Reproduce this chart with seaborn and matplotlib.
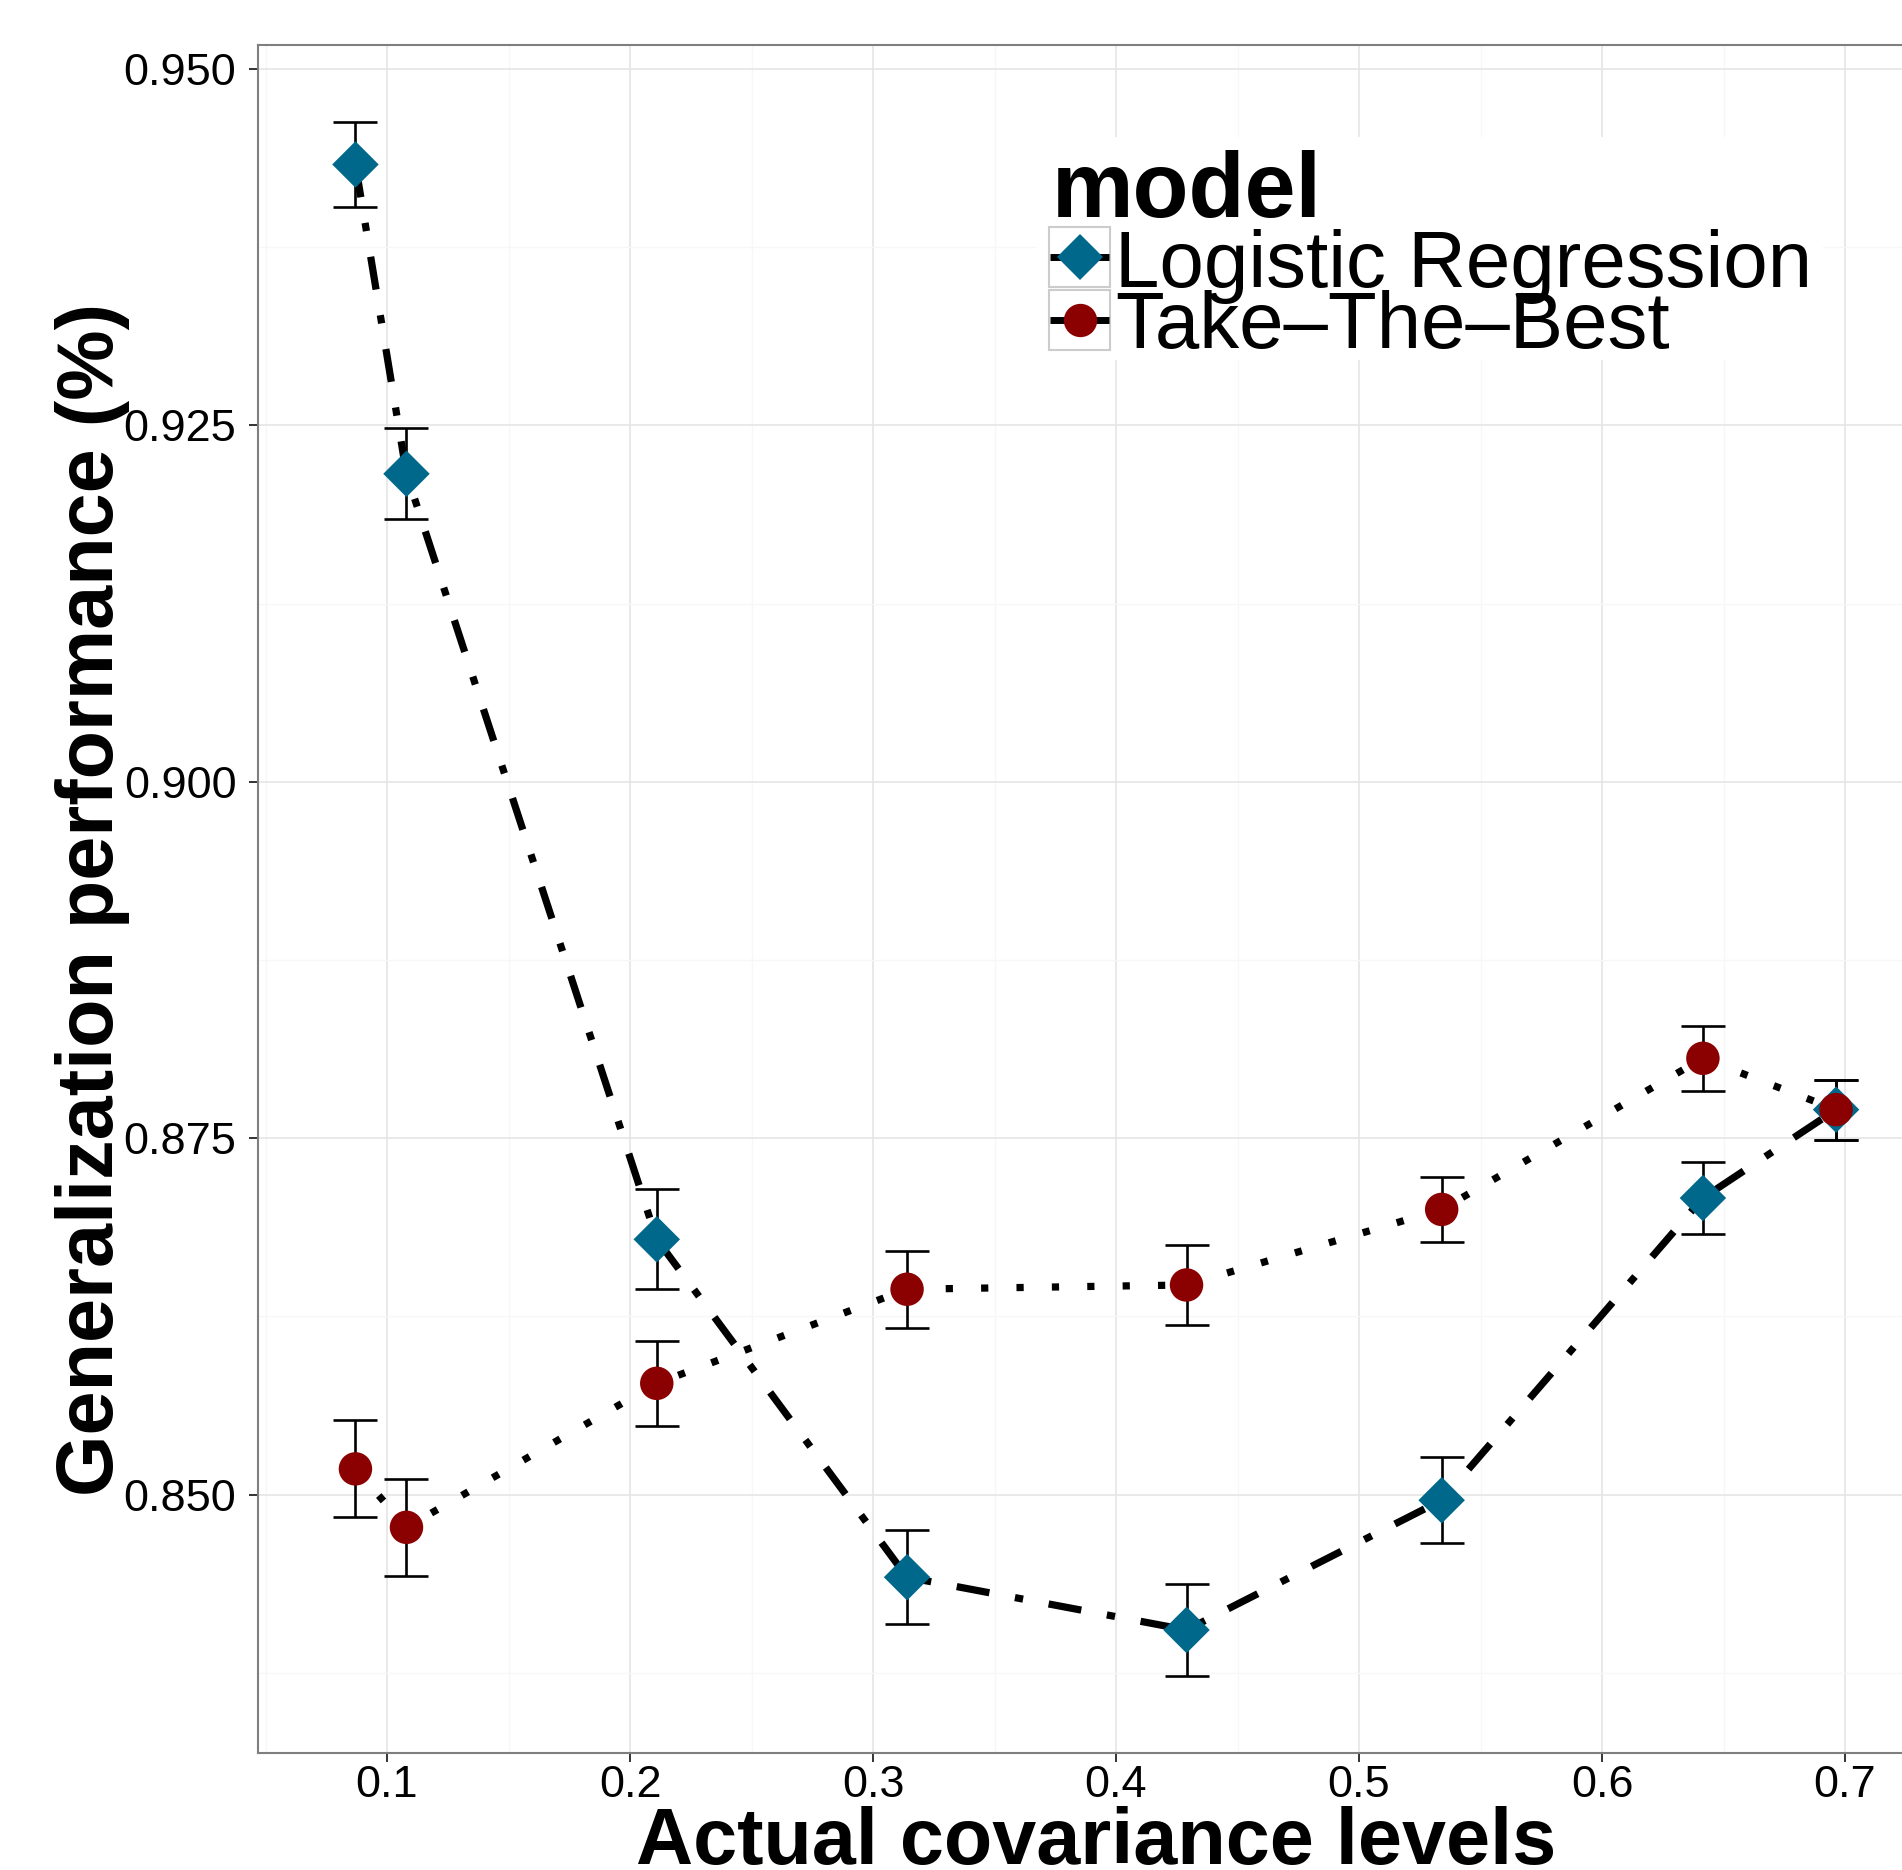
import numpy as np
import pandas as pd
import matplotlib
matplotlib.use("Agg")
import matplotlib.pyplot as plt
from matplotlib.patches import Rectangle
from matplotlib.lines import Line2D
import seaborn as sns

# ---------------- data ----------------
models = ["Logistic Regression", "Take–The–Best"]
covariance = [0.087, 0.108, 0.211, 0.314, 0.429, 0.534, 0.6415, 0.6963]
lr_perf = [0.9433, 0.9216, 0.8679, 0.8442, 0.8405, 0.8496, 0.8708, 0.8770]
lr_err = [0.0030, 0.0032, 0.0035, 0.0033, 0.0032, 0.0030, 0.0025, 0.0021]
ttb_perf = [0.8518, 0.8477, 0.8578, 0.8644, 0.8647, 0.8700, 0.8806, 0.8770]
ttb_err = [0.0034, 0.0034, 0.0030, 0.0027, 0.0028, 0.0023, 0.0023, 0.0021]
y_ticks = [0.850, 0.875, 0.900, 0.925, 0.950]
x_ticks = [0.1, 0.2, 0.3, 0.4, 0.5, 0.6, 0.7]
x_label = "Actual covariance levels"
y_label = "Generalization performance (%)"
legend_title = "model"

df = pd.DataFrame({
    "cov": covariance * 2,
    "perf": lr_perf + ttb_perf,
    "err": lr_err + ttb_err,
    "model": [models[0]] * len(covariance) + [models[1]] * len(covariance),
})

# ---------------- style ----------------
sns.set_theme(style="white")
plt.rcParams["font.family"] = ["Liberation Sans", "DejaVu Sans"]
plt.rcParams["text.color"] = "black"
plt.rcParams["axes.labelcolor"] = "black"

W, H, DPI = 1902, 1870, 100
fig = plt.figure(figsize=(W / DPI, H / DPI), dpi=DPI)
fig.patch.set_facecolor("white")

# axes in pixel layout (panel extends slightly past right edge, as in reference)
L_px, R_px, T_px, B_px = 258, 1934, 45, 1753
ax = fig.add_axes([L_px / W, (H - B_px) / H, (R_px - L_px) / W, (B_px - T_px) / H])

palette = {models[0]: "#00688B", models[1]: "#8B0000"}
markers = {models[0]: "D", models[1]: "o"}
sizes_marker = {models[0]: 560, models[1]: 580}
dashes = {models[0]: (4.6, 3.6, 1.15, 3.6), models[1]: (1.0, 3.9)}

# lines
sns.lineplot(data=df, x="cov", y="perf", style="model", dashes=dashes,
             color="black", linewidth=5.2, legend=False, sort=False,
             estimator=None, ax=ax, zorder=2)

# error bars
for m in models:
    sub = df[df["model"] == m]
    ax.errorbar(sub["cov"], sub["perf"], yerr=sub["err"], fmt="none",
                ecolor="black", elinewidth=1.9, capsize=15.8, capthick=1.9,
                zorder=3)

# points
for m in models:
    sub = df[df["model"] == m]
    sns.scatterplot(data=sub, x="cov", y="perf", marker=markers[m],
                    color=palette[m], s=sizes_marker[m], linewidth=0,
                    edgecolor="none", legend=False, ax=ax, zorder=4)

# ticks, grid, limits
ax.set_xticks(x_ticks)
ax.set_xticklabels([f"{v:.1f}" for v in x_ticks])
ax.set_yticks(y_ticks)
ax.set_yticklabels([f"{v:.3f}" for v in y_ticks])
ax.set_xticks(np.arange(0.05, 0.76, 0.1), minor=True)
ax.set_yticks(np.arange(0.8375, 0.95, 0.025), minor=True)
ax.set_xlim(0.0469, 0.7366)
ax.set_ylim(0.83187, 0.95168)
ax.grid(which="major", color="#E5E5E5", linewidth=1.2, zorder=0)
ax.grid(which="minor", color="#F7F7F7", linewidth=1.0, zorder=0)
ax.set_axisbelow(True)
ax.tick_params(which="major", direction="out", length=6.5, width=1.4,
               color="#333333", labelsize=32.5, labelcolor="black")
ax.tick_params(axis="y", which="major", pad=9.0, left=True)
ax.tick_params(axis="x", which="major", pad=2, bottom=True)
ax.tick_params(which="minor", length=0)
for s in ax.spines.values():
    s.set_color("#7F7F7F")
    s.set_linewidth(1.5)

ax.set_xlabel(x_label, fontsize=57, fontweight="bold", color="black")
ax.set_ylabel(y_label, fontsize=57, fontweight="bold", color="black")
ax.xaxis.set_label_coords(0.5, (B_px - 1806) / (B_px - T_px))
ax.yaxis.set_label_coords((130 - L_px) / (R_px - L_px), 0.5)


# ---------------- legend (drawn in figure pixel layout) ----------------
def fx(x):
    return x / W


def fy(y):
    return 1 - y / H


fig.add_artist(Rectangle((fx(1037), fy(360)), fx(1823) - fx(1037), fy(137) - fy(360),
                         transform=fig.transFigure, facecolor="white",
                         edgecolor="none", zorder=5))
fig.text(fx(1052), fy(217), legend_title, fontsize=66, fontweight="bold",
         color="black", ha="left", va="baseline", zorder=6)
key_tops = [227, 290]
label_base = [287, 348]
for i, m in enumerate(models):
    t = key_tops[i]
    fig.add_artist(Rectangle((fx(1049), fy(t + 60)), fx(1110) - fx(1049), fy(t) - fy(t + 60),
                             transform=fig.transFigure, facecolor="white",
                             edgecolor="#CCCCCC", linewidth=1.5, zorder=6))
    cy = fy(t + 30)
    fig.add_artist(Line2D([fx(1050), fx(1109)], [cy, cy], color="black",
                          linewidth=5, solid_capstyle="butt",
                          transform=fig.transFigure, zorder=7))
    ms = 23.6 if markers[m] == "D" else 24.0
    fig.add_artist(Line2D([fx(1079.5)], [cy], marker=markers[m], markersize=ms,
                          markerfacecolor=palette[m], markeredgewidth=0,
                          linestyle="none", transform=fig.transFigure, zorder=8))
    fig.text(fx(1115), fy(label_base[i]), m, fontsize=57.5, color="black",
             ha="left", va="baseline", zorder=9)

fig.savefig("out.png", dpi=DPI, facecolor="white")
